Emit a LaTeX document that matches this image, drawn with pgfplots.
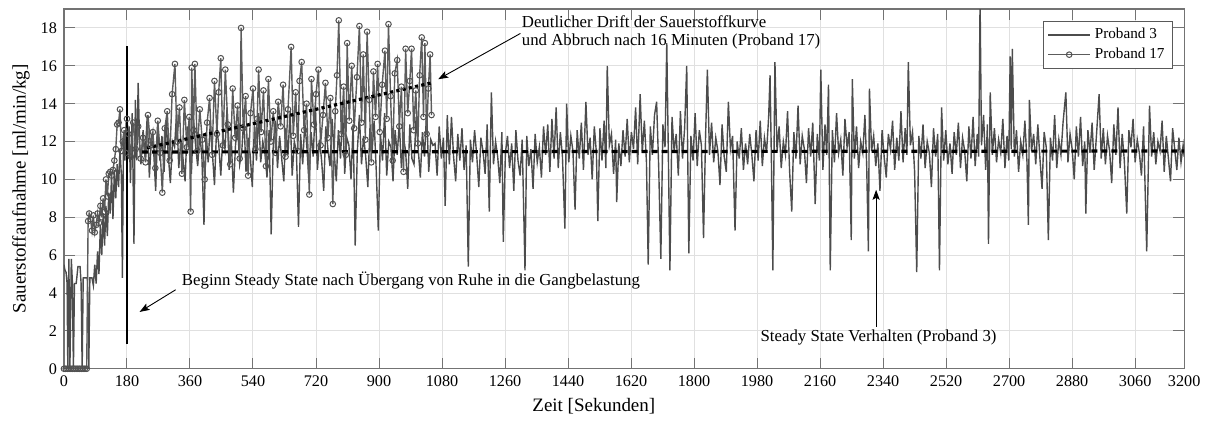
\documentclass[border=0pt]{standalone}
\usepackage{fontspec}
\setmainfont{Liberation Serif}
\usepackage{pgfplots}
\pgfplotsset{compat=1.18}
\usetikzlibrary{arrows.meta}
\begin{document}
\begin{tikzpicture}
\begin{axis}[
  at={(0,0)}, anchor=south west,
  scale only axis, width=560.5pt, height=180pt,
  xmin=0, xmax=3200, ymin=0, ymax=19,
  xtick={0,180,360,540,720,900,1080,1260,1440,1620,1800,1980,2160,2340,2520,2700,2880,3060,3200},
  ytick={0,2,4,6,8,10,12,14,16,18},
  /pgf/number format/assume math mode=true,
  /pgf/number format/1000 sep={},
  ticklabel style={font=\fontsize{8.1}{9}\selectfont},
  grid=major,
  major grid style={black!12, line width=0.5pt},
  tick align=inside,
  major tick length=5.5pt,
  tick style={black!55, line width=0.5pt},
  axis line style={black!55, line width=0.6pt},
  xlabel={Zeit [Sekunden]},
  ylabel={Sauerstoffaufnahme [ml/min/kg]},
  label style={font=\fontsize{9.5}{11}\selectfont},
  xlabel style={at={(axis description cs:0.473,-0.105)}, anchor=center},
  ylabel style={at={(axis description cs:-0.0384,0.5)}, anchor=center},
  legend style={at={(axis description cs:0.990,0.967)}, anchor=north east, draw=black!65, line width=0.5pt, font=\fontsize{7.6}{9}\selectfont, inner xsep=2pt, inner ysep=1.5pt, row sep=-1pt},
  legend cell align=left,
  legend image code/.code={\draw[mark repeat=2,mark phase=2,#1] plot coordinates {(0pt,0pt) (10.5pt,0pt) (21pt,0pt)};},
]
% Proband 3
\addplot[color=black!70, line width=0.7pt] coordinates {
(0,5.5) (3,5.2) (6,5.1) (9,4.5) (11,0) (14,5.8) (17,0) (21,5.8) (24,4.6) (27,0) (30,4.5) (35,4.5) (40,5.4) (46,5.4) (49,4.5) (52,0) (55,4.8) (61,4.8) (67,4.8) (71,0) (74,4.8) (80,4.8) (84,4.4) (88,5.5) (92,4.5) (96,6.2) (100,5.0) (104,7.6) (108,6.0) (112,8.2) (116,6.5) (120,8.6) (124,7.0) (128,9.3) (132,8.2) (136,10.2) (140,7.9) (144,10.5) (148,9.0) (152,10.8) (156,9.6) (160,11.6) (164,10.2) (167,4.8) (170,12.4) (174,11.0) (178,13.1) (182,11.2) (186,12.8) (190,9.8) (195,13.5) (200,6.6) (204,14.2) (208,11.0) (212,15.1) (216,12.0)
(220,10.8) (226,12.6) (232,11.2) (238,13.4) (244,10.1) (250,12.2) (256,11.6) (262,9.4) (268,12.9) (274,11.0)
(280,12.3) (286,10.4) (292,13.1) (298,11.3) (304,9.8) (310,12.0) (316,11.7) (322,13.6) (328,10.6) (334,12.1)
(340,11.1) (346,9.9) (352,12.8) (358,11.5) (364,10.3) (370,13.2) (376,11.8) (382,10.7) (388,12.4) (394,11.2)
(400,7.6) (406,12.5) (412,10.9) (418,13.0) (424,11.4) (430,9.7) (436,12.7) (442,11.9) (448,10.2) (454,12.3)
(460,11.6) (466,13.8) (472,10.5) (478,12.1) (484,9.3) (490,11.8) (496,12.9) (502,10.8) (508,11.5) (514,13.3)
(520,10.4) (526,12.2) (532,11.3) (538,9.6) (544,12.8) (550,11.0) (556,13.5) (562,10.9) (568,12.0) (574,11.4)
(580,10.1) (586,12.6) (592,7.1) (598,11.9) (604,13.1) (610,10.6) (616,12.3) (622,11.1) (628,9.9) (634,12.7)
(640,11.3) (646,13.6) (652,10.2) (658,12.0) (664,11.5) (670,7.5) (676,12.4) (682,10.8) (688,13.0) (694,11.7)
(700,9.8) (706,12.5) (712,11.2) (718,13.9) (724,10.5) (730,12.1) (736,11.0) (742,9.4) (748,12.8) (754,11.6)
(760,10.7) (766,13.2) (772,11.4) (778,9.9) (784,12.6) (790,11.1) (796,13.7) (802,10.3) (808,12.2) (814,11.8)
(820,10.0) (826,12.9) (832,6.5) (838,11.5) (844,13.4) (850,10.8) (856,12.3) (862,11.2) (868,9.6) (874,12.7)
(880,11.4) (886,13.1) (892,10.5) (898,7.3) (904,12.4) (910,11.0) (916,13.5) (922,10.2) (928,12.0) (934,11.7)
(940,9.9) (946,12.6) (952,11.3) (958,13.0) (964,10.6) (970,12.2) (976,11.5) (982,9.5) (988,12.9) (994,11.1)
(1000,10.8) (1006,13.3) (1012,11.6) (1018,10.1) (1024,12.5) (1030,11.2) (1036,13.6) (1042,10.4) (1048,12.1) (1054,11.8)
(1060,11.9) (1066,10.2) (1072,12.8) (1078,11.1) (1084,12.2) (1089,8.6) (1095,13.4) (1101,10.8) (1107,13.3) (1113,11.2)
(1119,9.9) (1125,12.4) (1131,11.0) (1137,12.7) (1143,10.5) (1149,11.8) (1155,5.4) (1161,12.1) (1167,10.9) (1173,12.6)
(1179,11.3) (1185,9.6) (1191,12.2) (1197,11.5) (1203,10.3) (1209,12.9) (1215,8.3) (1221,14.6) (1227,10.8) (1233,12.0)
(1239,11.2) (1245,9.8) (1251,12.5) (1255,6.7) (1261,11.4) (1267,12.3) (1273,10.6) (1279,11.9) (1285,9.4) (1291,12.6)
(1297,11.0) (1303,10.2) (1309,12.1) (1317,5.2) (1322,12.3) (1328,10.7) (1334,11.6) (1340,9.5) (1346,12.4) (1352,10.9)
(1358,11.7) (1364,10.1) (1370,12.8) (1376,11.3) (1382,12.9) (1388,10.4) (1394,13.2) (1400,11.1) (1406,13.8) (1412,10.6)
(1418,12.5) (1424,11.2) (1431,7.4) (1436,14.0) (1442,10.9) (1448,12.3) (1454,11.5) (1460,8.4) (1466,12.6) (1472,11.1)
(1478,13.0) (1484,10.5) (1491,14.1) (1497,11.3) (1503,12.2) (1509,10.0) (1515,12.8) (1521,11.4) (1525,7.8) (1531,12.7)
(1537,11.0) (1543,13.1) (1548,10.6) (1552,16.0) (1558,11.8) (1564,12.4) (1570,10.3) (1576,12.1) (1579,8.8) (1585,11.9)
(1591,10.7) (1597,12.6) (1603,11.2) (1609,13.2) (1615,10.9) (1621,12.5) (1627,11.6) (1633,13.8) (1639,10.8) (1646,14.5)
(1652,11.4) (1658,13.1) (1664,10.9) (1669,5.5) (1675,12.8) (1681,11.3) (1687,13.4) (1693,14.1) (1699,10.6) (1705,5.8)
(1711,12.9) (1717,11.7) (1722,17.2) (1726,12.0) (1731,5.2) (1737,13.3) (1743,11.5) (1749,12.4) (1755,10.2) (1761,13.6)
(1767,11.1) (1773,12.7) (1779,16.0) (1785,6.1) (1791,12.3) (1797,11.0) (1803,13.5) (1809,10.7) (1815,12.6) (1821,11.8)
(1827,6.9) (1833,12.4) (1838,15.8) (1844,11.3) (1850,13.0) (1856,10.9) (1862,12.2) (1868,11.5) (1874,9.7) (1880,12.9)
(1886,11.2) (1892,10.4) (1898,14.1) (1904,11.6) (1910,12.3) (1917,7.3) (1923,12.0) (1929,11.1) (1935,12.7) (1941,10.5)
(1947,11.9) (1953,10.8) (1959,12.4) (1965,11.3) (1971,9.9) (1977,12.6) (1983,11.0) (1989,13.1) (1995,10.7) (2001,12.2)
(2007,11.4) (2013,13.3) (2017,15.5) (2021,10.9) (2025,5.2) (2031,16.2) (2037,11.5) (2043,12.8) (2049,10.6) (2055,12.0)
(2061,11.3) (2067,13.6) (2073,10.4) (2079,8.3) (2085,12.5) (2091,11.1) (2097,13.9) (2103,10.8) (2109,12.3) (2115,11.6)
(2121,9.8) (2127,12.7) (2133,11.2) (2139,13.0) (2146,8.7) (2152,12.4) (2158,11.0) (2162,15.8) (2168,10.5) (2174,12.9)
(2179,11.3) (2184,15.0) (2189,5.2) (2195,12.6) (2201,10.9) (2207,13.5) (2213,11.4) (2219,12.1) (2225,10.2) (2231,13.2)
(2237,11.7) (2243,12.5) (2249,6.8) (2252,15.3) (2258,11.1) (2264,12.8) (2270,10.6) (2276,12.0) (2282,11.4) (2288,13.4)
(2293,10.8) (2298,6.2) (2301,14.8) (2307,11.5) (2313,12.3) (2319,10.7) (2325,11.9) (2331,9.4) (2337,12.6) (2343,11.2)
(2349,10.1) (2355,12.4) (2361,11.6) (2367,13.1) (2373,10.5) (2379,12.2) (2385,11.0) (2391,13.6) (2397,10.9) (2403,12.7)
(2408,11.3) (2412,16.2) (2418,11.8) (2424,12.5) (2430,10.4) (2436,5.1) (2442,12.3) (2448,11.1) (2454,12.9) (2460,10.6)
(2466,12.0) (2472,11.4) (2478,9.6) (2484,12.7) (2490,11.2) (2496,12.4) (2501,5.2) (2507,13.8) (2513,11.0) (2519,12.6)
(2525,10.8) (2531,11.9) (2537,10.3) (2543,12.5) (2549,11.3) (2555,13.0) (2561,10.6) (2567,12.2) (2573,11.5) (2579,9.9)
(2585,12.8) (2591,11.1) (2597,13.3) (2603,10.7) (2609,12.4) (2613,11.2) (2617,19.5) (2621,11.8) (2627,13.4) (2633,10.5)
(2638,12.9) (2641,6.6) (2646,14.6) (2652,11.3) (2658,12.7) (2664,10.9) (2670,12.1) (2676,11.4) (2682,13.2) (2688,10.6)
(2694,12.3) (2699,11.0) (2703,16.5) (2706,11.6) (2709,16.9) (2715,11.2) (2721,12.6) (2727,10.4) (2733,12.0) (2739,11.3)
(2745,13.1) (2751,10.9) (2755,7.6) (2758,14.2) (2764,11.5) (2770,12.4) (2776,10.8) (2782,12.9) (2788,11.1) (2794,9.5)
(2800,12.5) (2806,11.7) (2812,6.8) (2818,12.2) (2824,11.0) (2830,13.4) (2836,10.6) (2842,12.1) (2848,11.3) (2854,13.0)
(2862,14.6) (2868,10.9) (2874,12.4) (2880,11.6) (2886,10.0) (2892,12.8) (2898,11.2) (2904,13.3) (2910,10.7) (2916,12.0)
(2919,8.2) (2925,12.6) (2931,11.4) (2937,13.0) (2943,10.5) (2949,12.2) (2957,14.5) (2963,11.1) (2969,12.7) (2975,10.8)
(2981,12.3) (2987,11.5) (2993,9.8) (2999,12.9) (3005,11.3) (3011,13.8) (3017,10.6) (3023,12.4) (3029,11.0) (3036,8.2)
(3042,12.6) (3048,11.7) (3054,13.2) (3060,10.9) (3066,12.1) (3072,11.4) (3078,10.2) (3084,12.8) (3093,6.2) (3101,13.9)
(3107,11.2) (3113,12.5) (3119,10.8) (3125,12.0) (3131,11.5) (3137,13.1) (3143,10.4) (3149,12.3) (3155,11.1) (3161,9.9)
(3167,12.7) (3173,11.6) (3179,10.5) (3185,12.2) (3191,10.9) (3197,11.8) (3200,11.2)
};
\addlegendentry{Proband 3}
% Proband 17
\addplot[color=black!64, line width=0.7pt, mark=o, mark size=1.4pt, mark options={line width=0.5pt, draw=black!68}] coordinates {
(0,0) (5,0) (10,0) (15,0) (20,0) (25,0) (30,0) (35,0) (40,0) (45,0) (50,0) (55,0) (60,0) (65,0)
(69,7.8) (72,8.2) (76,7.9) (80,7.3) (84,8.1) (88,7.2) (92,7.6) (96,8.2) (100,7.7) (104,8.6) (108,8.0) (112,9.0) (116,8.3) (120,10.0) (124,9.1) (128,10.3) (132,10.4) (136,10.2) (140,10.5) (144,11.0) (148,11.6) (152,12.9) (156,13.0) (160,13.7) (164,11.5) (168,12.0) (172,12.6) (176,11.4) (180,13.2)
(184,12.4) (191,11.2) (198,13.0) (205,11.6) (212,12.8) (219,11.1) (226,12.2) (233,10.9) (240,13.4) (247,11.8)
(254,12.5) (261,10.6) (268,13.1) (275,11.4) (281,9.3) (288,12.7) (295,13.6) (302,11.0) (309,14.5) (317,16.1)
(323,12.0) (330,13.8) (337,10.3) (344,14.2) (351,11.7) (358,13.3) (362,8.3) (365,15.9) (370,12.6) (374,16.1)
(381,11.5) (388,13.7) (395,12.1) (402,10.0) (409,13.0) (416,14.3) (423,11.3) (430,15.2) (437,12.4) (442,14.6)
(448,16.4) (454,11.8) (461,15.8) (468,12.9) (475,10.8) (482,14.8) (489,12.2) (496,13.9) (502,11.1) (506,18.0)
(512,12.7) (519,14.4) (526,10.2) (533,13.5) (540,14.8) (547,11.6) (552,13.2) (556,15.8) (563,12.5) (570,14.7)
(577,10.7) (584,15.3) (591,12.0) (598,13.6) (605,11.4) (612,14.1) (619,12.8) (626,15.0) (633,11.2) (640,13.7)
(649,17.0) (655,12.3) (662,14.6) (668,11.5) (673,15.2) (679,16.2) (686,12.6) (693,14.0) (701,9.2) (707,15.3)
(714,12.9) (720,14.5) (727,15.8) (733,11.8) (740,13.4) (747,15.1) (754,12.2) (761,14.3) (768,8.7) (775,13.6)
(780,15.5) (785,18.4) (792,12.4) (799,14.9) (805,11.3) (809,17.2) (815,13.1) (822,16.0) (829,12.7) (837,15.4)
(844,18.1) (850,13.0) (855,16.6) (861,12.1) (866,17.8) (872,14.2) (878,10.9) (884,15.7) (890,13.3) (896,16.1)
(902,12.5) (909,15.0) (917,16.8) (922,13.2) (927,18.2) (933,14.4) (939,11.0) (945,15.6) (952,16.3) (958,12.8)
(964,14.9) (970,10.4) (976,16.9) (982,13.5) (988,15.2) (993,16.9) (999,12.6) (1005,14.7) (1011,11.9) (1016,15.5)
(1022,17.5) (1027,13.3) (1031,17.2) (1036,12.4) (1041,14.8) (1046,16.6) (1050,13.4)
};
\addlegendentry{Proband 17}
% reference lines
\addplot[forget plot, black, line width=1.6pt, dash pattern=on 3pt off 2pt] coordinates {(223,11.45) (3200,11.5)};
\addplot[forget plot, black, line width=1.6pt, dash pattern=on 1.6pt off 1.6pt] coordinates {(237,11.66) (1051,15.1)};
\addplot[forget plot, black, line width=1.2pt] coordinates {(180,1.3) (180,17.05)};
% annotations
\node[anchor=west, align=left, font=\fontsize{8.4}{9.2}\selectfont, inner sep=0pt] at (axis cs:1307,17.76) {Deutlicher Drift der Sauerstoffkurve\\und Abbruch nach 16 Minuten (Proband 17)};
\draw[-{Stealth[length=5pt,width=3.6pt,inset=1pt]}, line width=0.45pt] (axis cs:1304,17.71) -- (axis cs:1069,15.29);
\node[anchor=west, font=\fontsize{8.4}{9.2}\selectfont, inner sep=0pt] at (axis cs:336,4.64) {Beginn Steady State nach Übergang von Ruhe in die Gangbelastung};
\draw[-{Stealth[length=5pt,width=3.6pt,inset=1pt]}, line width=0.45pt] (axis cs:319,4.17) -- (axis cs:216,3.0);
\node[anchor=west, font=\fontsize{8.4}{9.2}\selectfont, inner sep=0pt] at (axis cs:1989,1.66) {Steady State Verhalten (Proband 3)};
\draw[-{Stealth[length=5pt,width=3.6pt,inset=1pt]}, line width=0.45pt] (axis cs:2320,2.23) -- (axis cs:2320,9.45);
\end{axis}
\path (-32pt,-24.5pt) rectangle (571.5pt,184.5pt);
\end{tikzpicture}
\end{document}
